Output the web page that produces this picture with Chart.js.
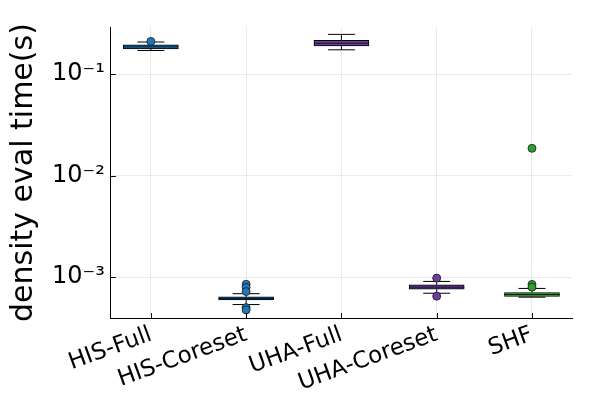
<!DOCTYPE html>
<html>
<head>
<meta charset="utf-8">
<script src="https://cdn.jsdelivr.net/npm/chart.js@4/dist/chart.umd.min.js"></script>
<style>
  html, body { margin: 0; padding: 0; background: #fff; }
  #wrap { width: 600px; height: 400px; }
</style>
</head>
<body>
<div id="wrap"><canvas id="c" width="600" height="400"></canvas></div>
<script>
const categories = ['HIS-Full', 'HIS-Coreset', 'UHA-Full', 'UHA-Coreset', 'SHF'];
const q1 = [0.178, 5.94e-4, 0.1897, 7.6e-4, 6.44e-4];
const median = [0.186, 6.15e-4, 0.202, 7.96e-4, 6.74e-4];
const q3 = [0.1953, 6.37e-4, 0.2155, 8.39e-4, 7.05e-4];
const whiskerLow = [0.1713, 5.36e-4, 0.174, 6.93e-4, 6.34e-4];
const whiskerHigh = [0.2077, 6.86e-4, 0.247, 9.06e-4, 7.73e-4];
const outlierGroup = [0, 1, 1, 1, 1, 1, 3, 3, 4, 4, 4];
const outlierValue = [0.2105, 8.5e-4, 7.9e-4, 7.2e-4, 5.0e-4, 4.75e-4, 9.77e-4, 6.48e-4, 8.47e-4, 7.96e-4, 0.01858];
const yTickValues = [1e-3, 1e-2, 1e-1];
const yTickLabels = ['10\u207B\u00B3', '10\u207B\u00B2', '10\u207B\u00B9'];
const groupColors = ['#1f77b4', '#1f77b4', '#6b3fa0', '#6b3fa0', '#2ca02c'];

const BOX_W = 55;
const CAP_W = 27;

const boxExtras = {
  id: 'boxExtras',
  afterDatasetDraw(chart, args) {
    if (args.index !== 1) return;
    const ctx = chart.ctx;
    const xs = chart.scales.x, ys = chart.scales.y;
    ctx.save();
    ctx.strokeStyle = '#000';
    ctx.lineWidth = 1;
    categories.forEach((c, i) => {
      const x = xs.getPixelForValue(i);
      const yq1 = ys.getPixelForValue(q1[i]);
      const yq3 = ys.getPixelForValue(q3[i]);
      const ylo = ys.getPixelForValue(whiskerLow[i]);
      const yhi = ys.getPixelForValue(whiskerHigh[i]);
      const ym = ys.getPixelForValue(median[i]);
      ctx.beginPath();
      ctx.moveTo(x, yq3); ctx.lineTo(x, yhi);
      ctx.moveTo(x, yq1); ctx.lineTo(x, ylo);
      ctx.moveTo(x - CAP_W / 2, yhi); ctx.lineTo(x + CAP_W / 2, yhi);
      ctx.moveTo(x - CAP_W / 2, ylo); ctx.lineTo(x + CAP_W / 2, ylo);
      ctx.stroke();
      ctx.lineWidth = 0.8;
      ctx.beginPath();
      ctx.moveTo(x - BOX_W / 2, ym); ctx.lineTo(x + BOX_W / 2, ym);
      ctx.stroke();
      ctx.lineWidth = 1;
    });
    ctx.restore();
  },
  afterDraw(chart) {
    const ctx = chart.ctx;
    const xs = chart.scales.x, ys = chart.scales.y;
    const a = chart.chartArea;
    ctx.save();
    ctx.strokeStyle = '#000';
    ctx.lineWidth = 1;
    ctx.beginPath();
    yTickValues.forEach(v => {
      const y = Math.round(ys.getPixelForValue(v)) + 0.5;
      ctx.moveTo(a.left, y); ctx.lineTo(a.left + 5, y);
    });
    categories.forEach((c, i) => {
      const x = Math.round(xs.getPixelForValue(i)) + 0.5;
      ctx.moveTo(x, a.bottom); ctx.lineTo(x, a.bottom - 5);
    });
    ctx.stroke();
    ctx.restore();
  }
};

const outlierData = outlierValue.map((v, k) => ({ x: outlierGroup[k], y: v }));
const outlierColors = outlierGroup.map(g => groupColors[g]);
const boxData = categories.map((c, i) => ({ x: i, y: [q1[i], q3[i]] }));

new Chart(document.getElementById('c'), {
  data: {
    datasets: [
      {
        type: 'scatter',
        data: outlierData,
        backgroundColor: outlierColors,
        borderColor: '#1a1a1a',
        borderWidth: 0.8,
        pointRadius: 4,
        pointHoverRadius: 4
      },
      {
        type: 'bar',
        data: boxData,
        backgroundColor: groupColors,
        borderColor: '#000',
        borderWidth: 1,
        borderSkipped: false,
        barThickness: BOX_W
      }
    ]
  },
  options: {
    responsive: false,
    animation: false,
    devicePixelRatio: 1,
    layout: { padding: { left: 6, right: 28, top: 27, bottom: 0 } },
    plugins: { legend: { display: false }, tooltip: { enabled: false } },
    scales: {
      x: {
        type: 'linear',
        offset: false,
        min: -0.42,
        max: 4.42,
        afterBuildTicks: s => { s.ticks = categories.map((c, i) => ({ value: i })); },
        ticks: {
          autoSkip: false,
          minRotation: 20,
          maxRotation: 20,
          padding: 3,
          color: '#000',
          font: { family: 'DejaVu Sans', size: 23 },
          callback: v => categories[v]
        },
        grid: { color: 'rgba(0,0,0,0.08)', drawTicks: false, offset: false },
        border: { color: '#000', width: 1 }
      },
      y: {
        type: 'logarithmic',
        min: 3.94e-4,
        max: 0.292,
        afterBuildTicks: s => { s.ticks = yTickValues.map(v => ({ value: v })); },
        ticks: {
          autoSkip: false,
          padding: 6,
          color: '#000',
          font: { family: 'DejaVu Sans', size: 24 },
          callback: v => yTickLabels[yTickValues.indexOf(v)]
        },
        grid: { color: 'rgba(0,0,0,0.08)', drawTicks: false },
        border: { color: '#000', width: 1 },
        title: {
          display: true,
          text: 'density eval time(s)',
          color: '#000',
          font: { family: 'DejaVu Sans', size: 30 },
          padding: { top: 0, bottom: 4 }
        }
      }
    }
  },
  plugins: [boxExtras]
});
</script>
</body>
</html>
